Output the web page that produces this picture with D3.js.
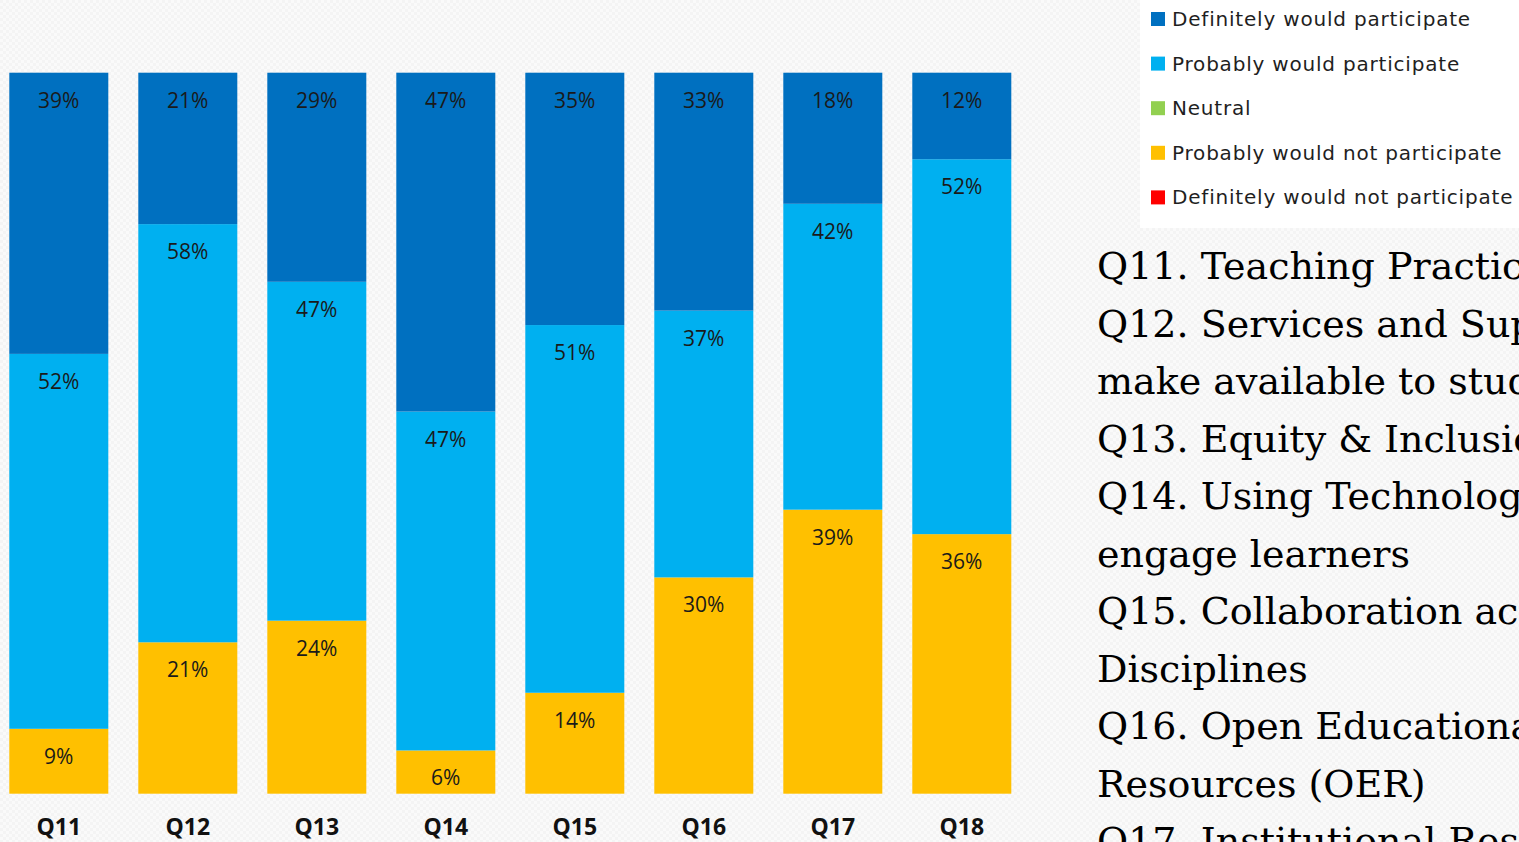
<!DOCTYPE html>
<html>
<head>
<meta charset="utf-8">
<script src="https://cdn.jsdelivr.net/npm/d3@7"></script>
<style>
html,body{margin:0;padding:0;overflow:hidden;background:#f9f9f9;}
svg{display:block;}
</style>
</head>
<body>
<svg id="chart" width="1519" height="842"></svg>
<script>
// ---- data ----
const categories = ["Q11","Q12","Q13","Q14","Q15","Q16","Q17","Q18"];
const definitelyWould = [39,21,29,47,35,33,18,12];
const probablyWould   = [52,58,47,47,51,37,42,52];
const neutral         = [0,0,0,0,0,0,0,0];
const probablyNot     = [9,21,24,6,14,30,39,36];
const definitelyNot   = [0,0,0,0,0,0,0,0];
const seriesNames = ["Definitely would participate","Probably would participate","Neutral","Probably would not participate","Definitely would not participate"];
const seriesColors = ["#0070C0","#00B0F0","#92D050","#FFC000","#FF0000"];
const sideLines = [
  "Q11. Teaching Practices",
  "Q12. Services and Supports you would",
  "make available to students",
  "Q13. Equity & Inclusion",
  "Q14. Using Technology to",
  "engage learners",
  "Q15. Collaboration across",
  "Disciplines",
  "Q16. Open Educational",
  "Resources (OER)",
  "Q17. Institutional Research"
];

// ---- build ----
const svg = d3.select("#chart");
const W = 1519, H = 842;

// subtle textured background
const defs = svg.append("defs");
const pat = defs.append("pattern").attr("id","bg").attr("width",6).attr("height",6).attr("patternUnits","userSpaceOnUse");
pat.append("rect").attr("width",6).attr("height",6).attr("fill","#fafafa");
pat.append("rect").attr("x",0).attr("y",0).attr("width",3).attr("height",3).attr("fill","#f4f4f4");
pat.append("rect").attr("x",3).attr("y",3).attr("width",3).attr("height",3).attr("fill","#f4f4f4");
svg.append("rect").attr("width",W).attr("height",H).attr("fill","url(#bg)");

const keys = seriesNames;
const seriesArrays = [definitelyWould, probablyWould, neutral, probablyNot, definitelyNot];
const rows = categories.map((c,i) => {
  const r = {cat:c};
  keys.forEach((k,j) => r[k] = seriesArrays[j][i]);
  return r;
});

const stackOrder = ["Definitely would not participate","Probably would not participate","Neutral","Probably would participate","Definitely would participate"];
const stack = d3.stack().keys(stackOrder).offset(d3.stackOffsetExpand);
const stacked = stack(rows);

const x = d3.scaleBand().domain(categories).range([9.3, 1011.3]).paddingInner(30/129).paddingOuter(0);
const y = d3.scaleLinear().domain([0,1]).range([793.7, 72.7]);
const color = d3.scaleOrdinal().domain(seriesNames).range(seriesColors);

const g = svg.append("g");
const layers = g.selectAll("g.layer").data(stacked).join("g").attr("class","layer")
  .attr("fill", d => color(d.key));
layers.selectAll("rect").data(d => d.map(p => ({p, key:d.key})))
  .join("rect")
  .attr("x", d => x(d.p.data.cat))
  .attr("width", x.bandwidth())
  .attr("y", d => y(d.p[1]))
  .attr("height", d => Math.max(0, y(d.p[0]) - y(d.p[1])));

// value labels
layers.selectAll("text").data(d => d.map(p => ({p, key:d.key})).filter(d => d.p.data[d.key] > 0))
  .join("text")
  .attr("x", d => x(d.p.data.cat) + x.bandwidth()/2)
  .attr("y", d => y(d.p[1]) + 27)
  .attr("text-anchor","middle")
  .attr("dominant-baseline","central")
  .attr("fill","#1a1a1a")
  .attr("font-family","'Open Sans', sans-serif")
  .attr("font-size", 21)
  .text(d => d.p.data[d.key] + "%");

// category axis
const xAxis = d3.axisBottom(x).tickSize(0).tickPadding(0);
const ax = svg.append("g").attr("transform","translate(0,827)").call(xAxis);
ax.select(".domain").remove();
ax.selectAll("text")
  .attr("dy","0.35em")
  .attr("font-family","'Open Sans', sans-serif")
  .attr("font-weight","bold")
  .attr("font-size",23)
  .attr("fill","#111");

// legend
const leg = svg.append("g");
leg.append("rect").attr("x",1140).attr("y",0).attr("width",379).attr("height",228).attr("fill","#ffffff");
const li = leg.selectAll("g.li").data(seriesNames).join("g").attr("class","li")
  .attr("transform",(d,i) => `translate(1151,${19 + i*44.6})`);
li.append("rect").attr("x",0).attr("y",-7).attr("width",14).attr("height",14).attr("fill", d => color(d));
li.append("text").attr("x",21).attr("y",0).attr("dominant-baseline","central")
  .attr("font-family","'DejaVu Sans', sans-serif").attr("font-size",20)
  .attr("letter-spacing",0.8)
  .attr("fill","#1f1f1f").text(d => d);

// side description text
const side = svg.append("g");
side.selectAll("text").data(sideLines).join("text")
  .attr("x",1097)
  .attr("y",(d,i) => 279 + i*57.5)
  .attr("font-family","'DejaVu Serif', serif")
  .attr("font-size",38)
  .attr("fill","#000")
  .text(d => d);
</script>
</body>
</html>
